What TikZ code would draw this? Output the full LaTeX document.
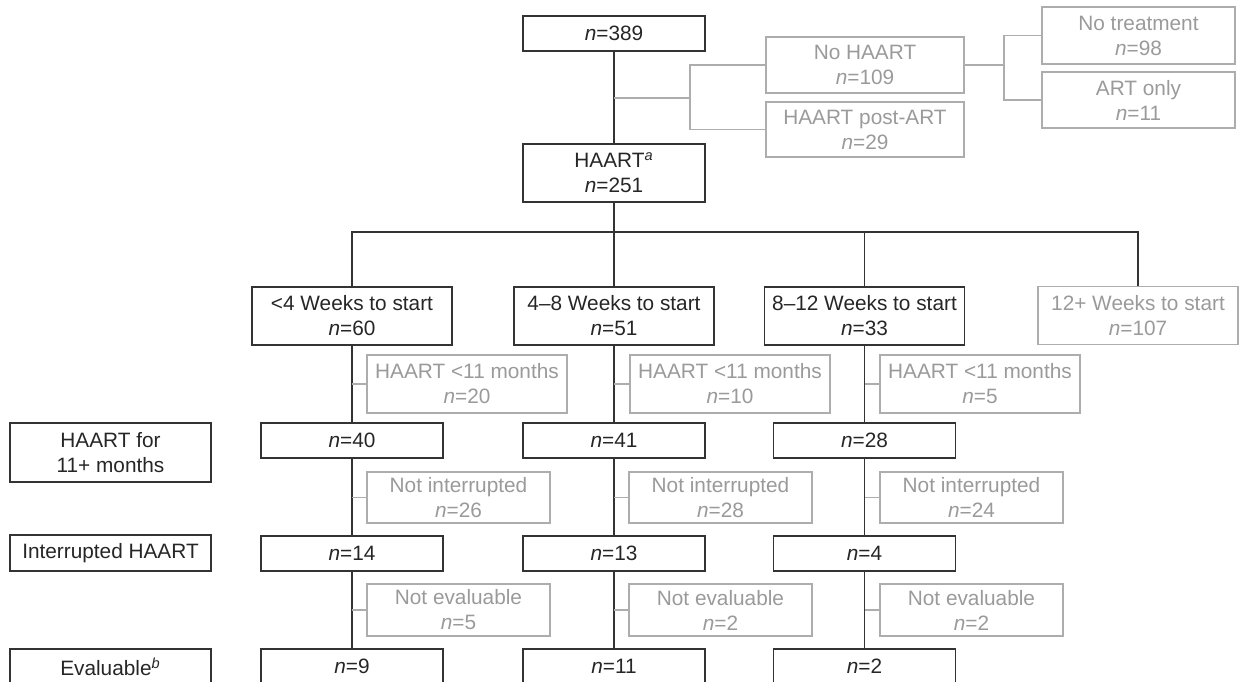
\documentclass[tikz,border=0pt]{standalone}
\usepackage{fontspec}
\setmainfont{Liberation Sans}
\usepackage{xcolor}
\usepackage{tikz}
\usetikzlibrary{positioning,calc}

\definecolor{inkdark}{HTML}{333333}
\definecolor{inkgray}{HTML}{ADADAD}
\definecolor{txtgray}{HTML}{9A9A9A}
\newcommand{\ncount}[1]{\textit{n}=#1}

\begin{document}
\begin{tikzpicture}[x=0.5pt, y=-0.5pt,
    every node/.style={font=\fontsize{10.4}{12.5}\selectfont, align=center, inner sep=0pt},
    blackbox/.style={draw=inkdark, line width=0.65pt, text=black!85},
    graybox/.style={draw=inkgray, line width=0.65pt, text=txtgray},
    weekbox/.style={minimum width=100pt, minimum height=29pt},
    countbox/.style={blackbox, minimum width=91pt, minimum height=17.5pt},
    blackline/.style={draw=inkdark, line width=0.65pt},
    grayline/.style={draw=inkgray, line width=0.65pt}]
        \useasboundingbox (0, 0) rectangle (1244, 681);

        % Whole cohort
        \node[countbox] (top) at (614, 33.5) {\ncount{389}};
        \node[blackbox, minimum width=91pt, minimum height=29pt] (haart) at (614, 173) {HAART\textsuperscript{\textit{a}}\\\ncount{251}};

        % Not on HAART
        \node[graybox, minimum width=99pt, minimum height=28pt] (nohaart) at (865, 65) {No HAART\\\ncount{109}};
        \node[graybox, minimum width=99pt, minimum height=27.5pt] (postart) at (865, 129.5) {HAART post-ART\\\ncount{29}};
        \node[graybox, minimum width=96.5pt, minimum height=28.5pt] (notreat) at (1138.5, 35.5) {No treatment\\\ncount{98}};
        \node[graybox, minimum width=96.5pt, minimum height=28pt] (artonly) at (1138.5, 100) {ART only\\\ncount{11}};

        % Time to start
        \node[blackbox, weekbox] (w1) at (352, 316) {<4 Weeks to start\\\ncount{60}};
        \node[blackbox, weekbox] (w2) at (614, 316) {4–8 Weeks to start\\\ncount{51}};
        \node[blackbox, weekbox] (w3) at (864.5, 316) {8–12 Weeks to start\\\ncount{33}};
        \node[graybox, weekbox] (w4) at (1138, 315.5) {12+ Weeks to start\\\ncount{107}};

        % Row labels
        \node[blackbox, minimum width=100.5pt, minimum height=29.5pt] (lab1) at (110.5, 452.5) {HAART for\\11+ months};
        \node[blackbox, minimum width=100.5pt, minimum height=18pt] (lab2) at (110.5, 553) {Interrupted HAART};
        \node[blackbox, minimum width=100.5pt, minimum height=17.5pt] (lab3) at (110.5, 666.5) {Evaluable\textsuperscript{\textit{b}}};

        % Short HAART
        \node[graybox, weekbox] (s1) at (467, 384) {HAART <11 months\\\ncount{20}};
        \node[graybox, weekbox] (s2) at (730, 384) {HAART <11 months\\\ncount{10}};
        \node[graybox, weekbox] (s3) at (980, 384) {HAART <11 months\\\ncount{5}};

        % 11+ months
        \node[countbox] (a1) at (352, 440.5) {\ncount{40}};
        \node[countbox] (a2) at (614, 440.5) {\ncount{41}};
        \node[countbox] (a3) at (864.5, 440.5) {\ncount{28}};

        % Not interrupted
        \node[graybox, minimum width=91.5pt, minimum height=25.5pt] (u1) at (458.5, 497.5) {Not interrupted\\\ncount{26}};
        \node[graybox, minimum width=91.5pt, minimum height=25.5pt] (u2) at (720.5, 497.5) {Not interrupted\\\ncount{28}};
        \node[graybox, minimum width=91.5pt, minimum height=25.5pt] (u3) at (971.5, 497.5) {Not interrupted\\\ncount{24}};

        % Interrupted
        \node[countbox] (b1) at (352, 553.5) {\ncount{14}};
        \node[countbox] (b2) at (614, 553.5) {\ncount{13}};
        \node[countbox] (b3) at (864.5, 553.5) {\ncount{4}};

        % Not evaluable
        \node[graybox, minimum width=91.5pt, minimum height=26pt] (e1) at (458.5, 610) {Not evaluable\\\ncount{5}};
        \node[graybox, minimum width=91.5pt, minimum height=26pt] (e2) at (720.5, 610) {Not evaluable\\\ncount{2}};
        \node[graybox, minimum width=91.5pt, minimum height=26pt] (e3) at (971.5, 610) {Not evaluable\\\ncount{2}};

        % Evaluable
        \node[countbox] (c1) at (352, 666.5) {\ncount{9}};
        \node[countbox] (c2) at (614, 666.5) {\ncount{11}};
        \node[countbox] (c3) at (864.5, 666.5) {\ncount{2}};

        % Top split
        \draw[blackline] (top) -- (haart);
        \coordinate (split) at (690, 98);
        \draw[grayline] (top.south |- split) -- (split);
        \draw[grayline] (nohaart.west) -| (split) |- (postart.west);
        \coordinate (split2) at (1004, 65);
        \draw[grayline] (nohaart.east) -- (split2);
        \draw[grayline] (notreat.west) -| (split2) |- (artonly.west);

        % Branches to start times
        \coordinate (bar) at (614, 232);
        \draw[blackline] (haart) -- (w2);
        \draw[blackline] (w1.north) |- (bar) -| (w4.north);
        \draw[blackline] (w3.north) -- (w3.north |- bar);

        % Columns
        \draw[blackline] (w1) -- (a1) (a1) -- (b1) (b1) -- (c1);
        \draw[blackline] (w2) -- (a2) (a2) -- (b2) (b2) -- (c2);
        \draw[blackline] (w3) -- (a3) (a3) -- (b3) (b3) -- (c3);

        % Drop-outs
        \draw[grayline] (s1.west) -- (s1.west -| w1.south);
        \draw[grayline] (s2.west) -- (s2.west -| w2.south);
        \draw[grayline] (s3.west) -- (s3.west -| w3.south);
        \draw[grayline] (u1.west) -- (u1.west -| a1.south);
        \draw[grayline] (u2.west) -- (u2.west -| a2.south);
        \draw[grayline] (u3.west) -- (u3.west -| a3.south);
        \draw[grayline] (e1.west) -- (e1.west -| b1.south);
        \draw[grayline] (e2.west) -- (e2.west -| b2.south);
        \draw[grayline] (e3.west) -- (e3.west -| b3.south);
\end{tikzpicture}
\end{document}
